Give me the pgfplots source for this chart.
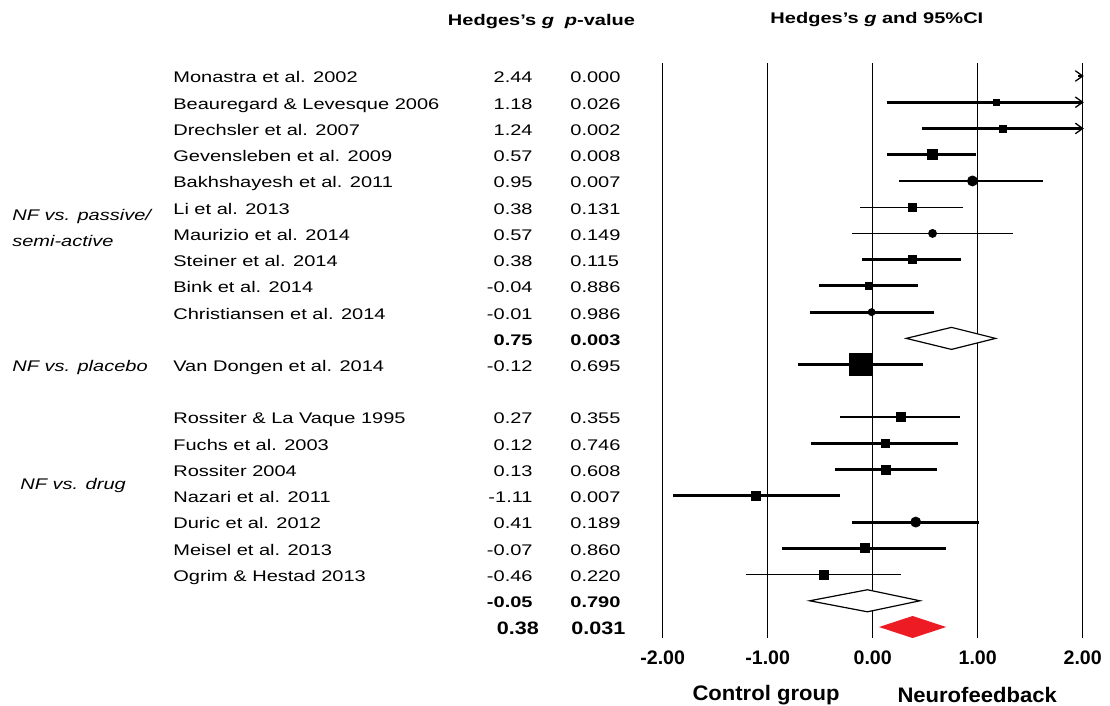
\documentclass[border=0pt]{standalone}
\usepackage{pgfplots}
\pgfplotsset{compat=1.18}
\usepackage{fontspec}
\setmainfont{Liberation Sans}
\usepackage{graphicx}
\newcommand{\fs}{\fontsize{7.7}{9}\selectfont}
\newcommand{\T}[1]{\scalebox{1.3}[1]{\fs #1}}
\definecolor{diared}{HTML}{ED1C24}
\newcommand{\studyrow}[4]{%
  \node[inner sep=0pt, anchor=mid west, yshift=-0.8pt] at (axis cs:-6.664,-#1) {\T{#2}};
  \node[inner sep=0pt, anchor=mid east, yshift=-0.8pt] at (axis cs:-3.235,-#1) {\T{#3}};
  \node[inner sep=0pt, anchor=mid west, yshift=-0.8pt] at (axis cs:-2.883,-#1) {\T{#4}};
}
\begin{document}
\begin{tikzpicture}
\path[use as bounding box] (0,0) rectangle (555pt,353pt);
\begin{axis}[
  at={(331.35pt,321.5pt)}, anchor=north west,
  scale only axis, width=210pt, height=287.5pt,
  xmin=-2, xmax=2, ymin=-22.418, ymax=-0.5046,
  clip=false,
  axis line style={draw=none},
  major tick length=0pt,
  xtick={-2,-1,0,1,2},
  xticklabels={-2.00,-1.00,0.00,1.00,2.00},
  xticklabel style={font=\bfseries\fontsize{9.8}{11}\selectfont, yshift=-2.7pt},
  ytick=\empty,
  xmajorgrids, grid style={black, line width=0.8pt},
  thickci/.style={black, line width=1.5pt},
  thinci/.style={black, line width=0.65pt},
  mk/.style={black, only marks, mark=square*, mark size=#1},
  mc/.style={black, only marks, mark=*, mark size=#1},
]
% --- confidence intervals ---
\addplot[thinci] coordinates {(1.96,-1) (2,-1)};
\addplot[thinci] coordinates {(1.93,-0.8) (2,-1) (1.93,-1.2)};
\addplot[thickci] coordinates {(0.14,-2) (2,-2)};
\addplot[thinci] coordinates {(1.93,-1.8) (2,-2) (1.93,-2.2)};
\addplot[thickci] coordinates {(0.47,-3) (2,-3)};
\addplot[thinci] coordinates {(1.93,-2.8) (2,-3) (1.93,-3.2)};
\addplot[thickci] coordinates {(0.14,-4) (0.98,-4)};
\addplot[thinci] coordinates {(0.25,-5) (1.62,-5)};
\addplot[thinci] coordinates {(-0.12,-6) (0.86,-6)};
\addplot[thinci] coordinates {(-0.20,-7) (1.34,-7)};
\addplot[thickci] coordinates {(-0.10,-8) (0.84,-8)};
\addplot[thickci] coordinates {(-0.51,-9) (0.43,-9)};
\addplot[thickci] coordinates {(-0.60,-10) (0.58,-10)};
\addplot[thickci] coordinates {(-0.71,-12) (0.48,-12)};
\addplot[thinci] coordinates {(-0.31,-14) (0.83,-14)};
\addplot[thickci] coordinates {(-0.59,-15) (0.81,-15)};
\addplot[thickci] coordinates {(-0.36,-16) (0.61,-16)};
\addplot[thickci] coordinates {(-1.90,-17) (-0.31,-17)};
\addplot[thickci] coordinates {(-0.20,-18) (1.01,-18)};
\addplot[thickci] coordinates {(-0.86,-19) (0.70,-19)};
\addplot[thinci] coordinates {(-1.21,-20) (0.27,-20)};
% --- point estimates ---
\addplot[mk=1.5pt] coordinates {(1.18,-2)};
\addplot[mk=1.75pt] coordinates {(1.24,-3)};
\addplot[mk=2.5pt] coordinates {(0.57,-4)};
\addplot[mc=2.5pt] coordinates {(0.95,-5)};
\addplot[mk=2pt] coordinates {(0.38,-6)};
\addplot[mc=2pt] coordinates {(0.57,-7)};
\addplot[mk=2pt] coordinates {(0.38,-8)};
\addplot[mk=1.75pt] coordinates {(-0.04,-9)};
\addplot[mc=1.75pt] coordinates {(-0.01,-10)};
\addplot[mk=5.5pt] coordinates {(-0.12,-12)};
\addplot[mk=2.25pt] coordinates {(0.27,-14)};
\addplot[mk=2pt] coordinates {(0.12,-15)};
\addplot[mk=2.25pt] coordinates {(0.13,-16)};
\addplot[mk=2.25pt] coordinates {(-1.11,-17)};
\addplot[mc=2.5pt] coordinates {(0.41,-18)};
\addplot[mk=2.25pt] coordinates {(-0.07,-19)};
\addplot[mk=2.25pt] coordinates {(-0.46,-20)};
% --- summary diamonds ---
\addplot[draw=black, fill=white, line width=0.6pt] coordinates {(0.32,-11) (0.75,-10.58) (1.17,-11) (0.75,-11.42)} -- cycle;
\addplot[draw=black, fill=white, line width=0.6pt] coordinates {(-0.60,-21) (-0.05,-20.58) (0.45,-21) (-0.05,-21.42)} -- cycle;
\addplot[draw=none, fill=diared] coordinates {(0.06,-22) (0.38,-21.58) (0.70,-22) (0.38,-22.42)} -- cycle;

% --- headers ---
\node[inner sep=0pt] at (axis cs:-3.54,1.058) {\T{\bfseries Hedges's \textit{g}}};
\node[inner sep=0pt] at (axis cs:-2.598,1.058) {\T{\bfseries \textit{p}-value}};
\node[inner sep=0pt] at (axis cs:0.04,1.134) {\T{\bfseries Hedges's \textit{g} and 95\%CI}};

% --- study names, g, p ---
\studyrow{1}{Monastra et al. 2002}{2.44}{0.000}
\studyrow{2}{Beauregard \& Levesque 2006}{1.18}{0.026}
\studyrow{3}{Drechsler et al. 2007}{1.24}{0.002}
\studyrow{4}{Gevensleben et al. 2009}{0.57}{0.008}
\studyrow{5}{Bakhshayesh et al. 2011}{0.95}{0.007}
\studyrow{6}{Li et al. 2013}{0.38}{0.131}
\studyrow{7}{Maurizio et al. 2014}{0.57}{0.149}
\studyrow{8}{Steiner et al. 2014}{0.38}{0.115}
\studyrow{9}{Bink et al. 2014}{-0.04}{0.886}
\studyrow{10}{Christiansen et al. 2014}{-0.01}{0.986}
\studyrow{12}{Van Dongen et al. 2014}{-0.12}{0.695}
\studyrow{14}{Rossiter \& La Vaque 1995}{0.27}{0.355}
\studyrow{15}{Fuchs et al. 2003}{0.12}{0.746}
\studyrow{16}{Rossiter 2004}{0.13}{0.608}
\studyrow{17}{Nazari et al. 2011}{-1.11}{0.007}
\studyrow{18}{Duric et al. 2012}{0.41}{0.189}
\studyrow{19}{Meisel et al. 2013}{-0.07}{0.860}
\studyrow{20}{Ogrim \& Hestad 2013}{-0.46}{0.220}
\node[inner sep=0pt, anchor=mid east, yshift=-0.8pt] at (axis cs:-3.235,-11) {\T{\bfseries 0.75}};
\node[inner sep=0pt, anchor=mid west, yshift=-0.8pt] at (axis cs:-2.883,-11) {\T{\bfseries 0.003}};
\node[inner sep=0pt, anchor=mid east, yshift=-0.8pt] at (axis cs:-3.235,-21) {\T{\bfseries -0.05}};
\node[inner sep=0pt, anchor=mid west, yshift=-0.8pt] at (axis cs:-2.883,-21) {\T{\bfseries 0.790}};
\node[inner sep=0pt, anchor=mid east, yshift=-0.9pt, font=\fontsize{9}{10}\selectfont] at (axis cs:-3.175,-22) {\scalebox{1.2}[1]{\bfseries 0.38}};
\node[inner sep=0pt, anchor=mid west, yshift=-0.9pt, font=\fontsize{9}{10}\selectfont] at (axis cs:-2.873,-22) {\scalebox{1.2}[1]{\bfseries 0.031}};

% --- group labels ---
\node[inner sep=0pt, anchor=mid west] at (axis cs:-8.198,-6.30) {\T{\itshape NF vs. passive/}};
\node[inner sep=0pt, anchor=mid west] at (axis cs:-8.198,-7.29) {\T{\itshape semi-active}};
\node[inner sep=0pt, anchor=mid west, yshift=-0.8pt] at (axis cs:-8.198,-12) {\T{\itshape NF vs. placebo}};
\node[inner sep=0pt, anchor=mid west] at (axis cs:-8.12,-16.55) {\T{\itshape NF vs. drug}};

% --- bottom labels ---
\node[font=\bfseries\fontsize{10.5}{12}\selectfont] at (axis cs:-1.016,-24.59) {\scalebox{1.05}[1]{Control group}};
\node[font=\bfseries\fontsize{10.5}{12}\selectfont] at (axis cs:0.995,-24.59) {\scalebox{1.05}[1]{Neurofeedback}};
\end{axis}
\end{tikzpicture}
\end{document}
